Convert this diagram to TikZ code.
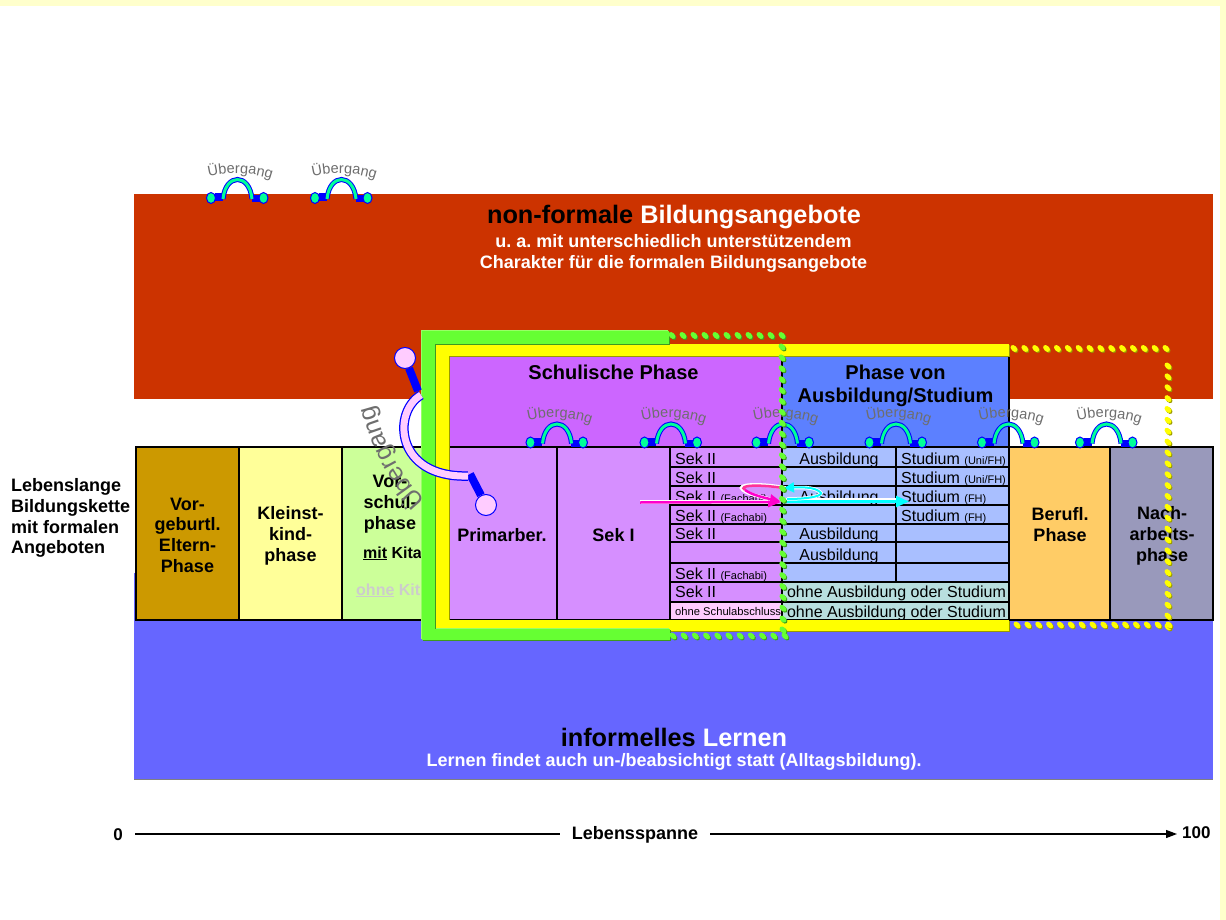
\documentclass[tikz,border=0pt]{standalone}
\usepackage{fontspec}
\setmainfont{Liberation Sans}
\frenchspacing
\usetikzlibrary{decorations.text,arrows.meta}
\definecolor{paper}{HTML}{FFFFCC}
\definecolor{redx}{HTML}{CC3300}
\definecolor{blx}{HTML}{6666FF}
\definecolor{elx}{HTML}{CC9900}
\definecolor{kix}{HTML}{FFFF99}
\definecolor{vox}{HTML}{CCFF99}
\definecolor{sex}{HTML}{D68FFF}
\definecolor{scx}{HTML}{CC66FF}
\definecolor{aux}{HTML}{5C80FF}
\definecolor{tax}{HTML}{A9BFFF}
\definecolor{ohx}{HTML}{B8DEDE}
\definecolor{pix}{HTML}{FFCCFF}
\definecolor{bex}{HTML}{FFCC66}
\definecolor{nax}{HTML}{9999BB}
\definecolor{grx}{HTML}{66FF33}
\definecolor{gsx}{HTML}{3D9A1F}
\definecolor{lix}{HTML}{99FF66}
\definecolor{gex}{HTML}{FFFF00}
\definecolor{gdx}{HTML}{999900}
\definecolor{brx}{HTML}{0000FF}
\definecolor{tux}{HTML}{00FF99}
\definecolor{rox}{HTML}{FF3399}
\definecolor{max}{HTML}{FF00CC}
\definecolor{cyx}{HTML}{00FFFF}
\definecolor{ubx}{HTML}{6E6E6E}
\tikzset{
    big/.style={inner sep=0pt,align=center,font=\bfseries\fontsize{25.3}{28}\selectfont},
    sub/.style={inner sep=0pt,align=center,white,font=\bfseries\fontsize{18}{21}\selectfont},
    head/.style={inner sep=0pt,align=center,font=\bfseries\fontsize{20}{22.5}\selectfont},
    phase/.style={inner sep=0pt,align=center,font=\bfseries\fontsize{18}{20.7}\selectfont},
    cell/.style={inner sep=0pt,font=\fontsize{16}{18}\selectfont},
    box/.style={draw=black,line width=1.1pt},
    axis/.style={font=\bfseries\fontsize{17}{20}\selectfont,inner ysep=0pt},
    bridge/.pic={
        \fill [brx] (-23,-4.5) rectangle (-15,3.5);
        \fill [brx] (14,-3) rectangle (23,4.5);
        \filldraw [fill=tux,draw=brx,line width=1pt] (-26.5,0) ellipse (4.5 and 5.5);
        \filldraw [fill=tux,draw=brx,line width=1pt] (26,0) ellipse (4.5 and 5.5);
        \draw [brx,line width=5pt] (-14.5,1) .. controls (-12,-25) and (12,-25) .. (14.5,1);
        \draw [tux,line width=3pt] (-14.5,1) .. controls (-12,-25) and (12,-25) .. (14.5,1);
        \path [decorate,decoration={text along path,text align={center},
            text={|\color{ubx}\fontsize{14.5}{16}\selectfont|Übergang}}]
            (-31,-21) .. controls (-12,-26) and (12,-27) .. (36,-18);
    }
}
\begin{document}
\begin{tikzpicture}[x=1pt,y=-1pt]
        \useasboundingbox (0,0) rectangle (1226,920);
        \fill [white] (0,0) rectangle (1226,920);
        \fill [paper] (0,0) rectangle (1226,6);
        \fill [paper] (1220,0) rectangle (1226,920);
        % the two bands
        \fill [redx] (134,194) rectangle (1213,399);
        \fill [blx] (134,573) rectangle (1213,779);
        \draw [gray] (134,779) -- (1213,779);
        \node (nonformal) [big] at (674,217) {non-formale \textcolor{white}{Bildungsangebote}};
        \node (nonformalsub) [sub] at (673.5,253) {u. a. mit unterschiedlich unterstützendem\\Charakter für die formalen Bildungsangebote};
        \node (informell) [big] at (674,737) {informelles \textcolor{white}{Lernen}};
        \node (informellsub) [sub] at (674,762) {Lernen findet auch un-/beabsichtigt statt (Alltagsbildung).};
        % phases
        \draw [box,fill=scx] (449,355) rectangle (782,447);
        \draw [box,fill=aux] (782,355) rectangle (1009,447);
        \node (schule) [head] at (613.5,372) {Schulische Phase};
        \node (ausbstud) [head] at (895.5,386) {Phase von\\Ausbildung/Studium};
        \foreach \xa/\xb/\col in {136/239/elx,239/342/kix,342/449/vox,449/557/sex,557/670/sex,1009/1110/bex,1110/1213/nax} {
            \draw [box,fill=\col] (\xa,447) rectangle (\xb,620);
        }
        \node (eltern) [phase] at (187.5,535) {Vor-\\geburtl.\\Eltern-\\Phase};
        \node (kleinst) [phase] at (290.5,536) {Kleinst-\\kind-\\phase};
        \node (vorschul) [phase] at (390,504) {Vor-\\schul-\\phase};
        \node (mitkita) [phase,font=\bfseries\fontsize{16}{18}\selectfont,anchor=base west] at (363,558) {\underline{mit} Kita};
        \node (ohnekita) [phase,text=black!20,font=\bfseries\fontsize{16}{18}\selectfont,anchor=base west] at (356,595) {\underline{ohne} Kit};
        \node (primar) [phase] at (502,535) {Primarber.};
        \node (seki) [phase] at (613.5,535) {Sek I};
        \node (beruf) [phase] at (1060,524.5) {Berufl.\\Phase};
        \node (nach) [phase] at (1162,536) {Nach-\\arbeits-\\phase};
        \node (kette) [phase,align=left,anchor=north west] at (11,478.5) {Lebenslange\\Bildungskette\\mit formalen\\Angeboten};
        % table of the rows
        \newcommand{\kl}[1]{{\fontsize{11}{12}\selectfont #1}}
        \foreach \ya/\yb/\sek/\ausb/\stud in {
            447/467/{Sek II}/Ausbildung/{Studium \kl{(Uni/FH)}},
            467/486/{Sek II}/{}/{Studium \kl{(Uni/FH)}},
            486/505/{Sek II \kl{(Fachabi)}}/Ausbildung/{Studium \kl{(FH)}},
            505/524/{Sek II \kl{(Fachabi)}}/{}/{Studium \kl{(FH)}},
            524/542/{Sek II}/Ausbildung/{},
            542/563/{}/Ausbildung/{},
            563/582/{Sek II \kl{(Fachabi)}}/{}/{}} {
            \draw [box,fill=sex] (670,\ya) rectangle (782,\yb);
            \draw [box,fill=tax] (782,\ya) rectangle (896,\yb);
            \draw [box,fill=tax] (896,\ya) rectangle (1009,\yb);
            \node (sek\ya) [cell,anchor=base west] at (675,\yb-3) {\sek};
            \node (ausb\ya) [cell,anchor=base] at (839,\yb-3) {\ausb};
            \node (stud\ya) [cell,anchor=base west] at (901,\yb-3) {\stud};
        }
        \draw [box,fill=sex] (670,582) rectangle (782,602);
        \draw [box,fill=pix] (670,602) rectangle (782,620);
        \draw [box,fill=ohx] (782,582) rectangle (1009,602);
        \draw [box,fill=ohx] (782,602) rectangle (1009,620);
        \node (sekacht) [cell,anchor=base west] at (675,597) {Sek II};
        \node (ohnesch) [cell,anchor=base west,font=\fontsize{11.2}{12}\selectfont] at (675,615) {ohne Schulabschluss};
        \node (ohneacht) [cell,anchor=base] at (896.5,597) {ohne Ausbildung oder Studium};
        \node (ohneneun) [cell,anchor=base] at (896.5,617) {ohne Ausbildung oder Studium};
        % frames with their shadows
        \foreach \off/\col in {1/gdx,0/gex} {
            \fill [\col] (436+\off,344+\off) rectangle (1009+\off,355.5+\off);
            \fill [\col] (436+\off,344+\off) rectangle (448.5+\off,631+\off);
            \fill [\col] (436+\off,620+\off) rectangle (1009+\off,631+\off);
        }
        \foreach \off/\col in {-1/lix,1/gsx,0/grx} {
            \fill [\col] (422+\off,331+\off) rectangle (669+\off,344+\off);
            \fill [\col] (422+\off,331+\off) rectangle (435+\off,640+\off);
            \fill [\col] (422+\off,629+\off) rectangle (670+\off,640+\off);
        }
        % bridges
        \foreach \cx/\cy in {237.5/198,341.5/198,557/442.5,671/442.5,783/442.5,896/442.5,1008.5/442.5,1106.5/442.5} {
            \pic at (\cx,\cy) {bridge};
        }
        % arrows
        \draw [white,line width=4pt] (640,501.5) -- (770,501.5);
        \draw [max,line width=2.5pt,-{Triangle[length=13pt,width=10pt]}] (640,502.5) -- (781,502);
        \draw [white,line width=3.5pt] (786,488) .. controls (760,483) and (735,484) .. (743,490) .. controls (750,495) and (765,498) .. (775,500);
        \draw [rox,line width=2.5pt] (786,488.5) .. controls (760,484) and (737,485) .. (745,490);
        \draw [max,line width=2.5pt,-{Triangle[length=10pt,width=9pt]}] (745,490) .. controls (752,495) and (765,498) .. (780,501);
        \draw [white,line width=4.5pt] (785,500.5) -- (900,500.5);
        \draw [cyx,line width=2.5pt,-{Triangle[length=13pt,width=11pt]}] (785,501.5) -- (909,501.5);
        \draw [white,line width=3.5pt] (787,499) .. controls (812,499) and (825,495) .. (820,492) .. controls (815,487) and (800,487) .. (790,488);
        \draw [cyx,line width=2pt,-{Triangle[length=10pt,width=10pt]}] (787,499) .. controls (812,499) and (825,495) .. (820,492) .. controls (815,487) and (800,487) .. (784,488);
        % dotted continuation
        \foreach \xa/\ya/\xb/\yb/\num/\col/\dark in {
            672/335.5/782/335.5/10/grx/gsx,
            782/347/783/630/26/grx/gsx,
            673/636/785/636/10/grx/gsx,
            1014/348.5/1166/348.5/14/gex/gdx,
            1168/366/1168/627/24/gex/gdx,
            1017/625/1169/625/14/gex/gdx} {
            \foreach \i in {0,...,\num} {
                \fill [\dark,shift={({\xa+\i*(\xb-\xa)/\num+1},{\ya+\i*(\yb-\ya)/\num+1})},rotate=-45] (0,0) ellipse (4.1 and 2.7);
                \fill [\col,shift={({\xa+\i*(\xb-\xa)/\num},{\ya+\i*(\yb-\ya)/\num})},rotate=-45] (0,0) ellipse (4.1 and 2.7);
            }
        }
        % the large bridge
        \coordinate (stuba) at (418,391);
        \coordinate (stubb) at (470,474);
        \node (dota) [circle,draw=brx,fill=pix,line width=1pt,minimum size=21pt,inner sep=0pt] at (405,358) {};
        \node (dotb) [circle,draw=brx,fill=pix,line width=1pt,minimum size=21pt,inner sep=0pt] at (486,505) {};
        \draw [brx,line width=8pt] (dota) -- (stuba);
        \draw [brx,line width=8pt] (dotb) -- (stubb);
        \draw [brx,line width=9.5pt] (stuba)++(3,4) .. controls (392,412) and (395,478) .. (468,476);
        \draw [pix,line width=7pt] (stuba)++(3,4) .. controls (392,412) and (395,478) .. (468,476);
        \path [decorate,decoration={text along path,text align={center},
            text={|\color{ubx}\fontsize{25}{27}\selectfont|Übergang}}]
            (432,507) .. controls (403,482) and (382,440) .. (372,396);
        % life span
        \node (null) [axis,inner xsep=12pt,anchor=east] at (135,835) {0};
        \node (spanne) [axis,font=\bfseries\fontsize{18}{20}\selectfont,inner xsep=12pt] at (635,835) {Lebensspanne};
        \node (hundert) [axis,inner xsep=5pt,anchor=west] at (1177,833) {100};
        \draw [line width=1.2pt] (null.east|-0,834) -- (spanne.west|-0,834);
        \draw [line width=1.2pt,-{Triangle[length=11pt,width=8pt]}] (spanne.east|-0,834) -- (hundert.west|-0,834);
    \end{tikzpicture}
\end{document}
